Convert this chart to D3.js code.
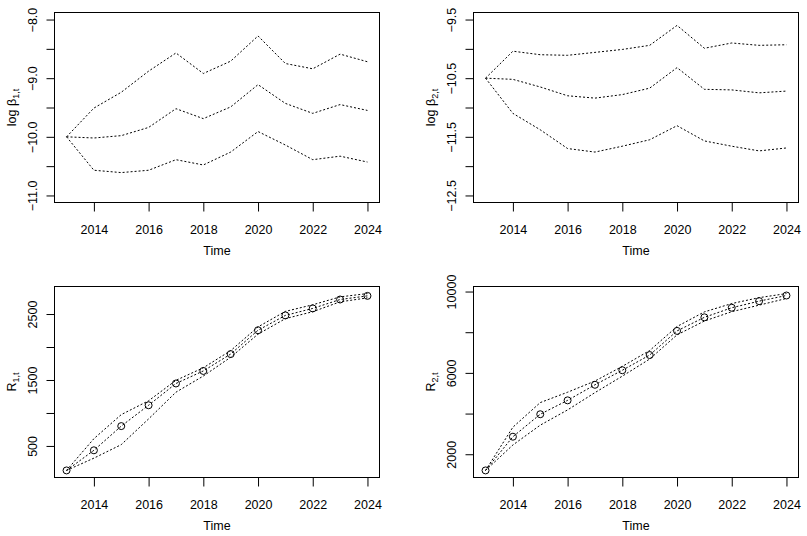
<!DOCTYPE html>
<html>
<head>
<meta charset="utf-8">
<script src="https://cdn.jsdelivr.net/npm/d3@7"></script>
<style>
  body { margin: 0; background: #fff; }
  svg text { font-family: "Liberation Sans", Arial, sans-serif; fill: #000; }
</style>
</head>
<body>
<div id="chart"></div>
<script>
// years on the x axis
const years = [2013, 2014, 2015, 2016, 2017, 2018, 2019, 2020, 2021, 2022, 2023, 2024];
const xTicks = [2014, 2016, 2018, 2020, 2022, 2024];

// log beta_1,t : upper / median / lower
const b1Upper = [-10.0, -9.51, -9.24, -8.88, -8.57, -8.92, -8.71, -8.28, -8.75, -8.84, -8.59, -8.72];
const b1Mid   = [-10.0, -10.02, -9.98, -9.84, -9.52, -9.69, -9.49, -9.11, -9.43, -9.60, -9.45, -9.55];
const b1Lower = [-10.0, -10.57, -10.61, -10.57, -10.39, -10.48, -10.26, -9.91, -10.14, -10.39, -10.33, -10.43];
const b1Ticks = [-8, -8.5, -9, -9.5, -10, -10.5, -11];
const b1TickLabels = ["\u22128.0", "", "\u22129.0", "", "\u221210.0", "", "\u221211.0"];

// log beta_2,t
const b2Upper = [-10.5, -10.04, -10.10, -10.11, -10.06, -10.01, -9.94, -9.60, -9.99, -9.90, -9.94, -9.93];
const b2Mid   = [-10.5, -10.52, -10.65, -10.80, -10.84, -10.78, -10.67, -10.32, -10.69, -10.70, -10.75, -10.72];
const b2Lower = [-10.5, -11.10, -11.38, -11.70, -11.76, -11.66, -11.55, -11.31, -11.57, -11.66, -11.74, -11.69];
const b2Ticks = [-9.5, -10, -10.5, -11, -11.5, -12, -12.5];
const b2TickLabels = ["\u22129.5", "", "\u221210.5", "", "\u221211.5", "", "\u221212.5"];

// R_1,t
const r1Upper = [129, 610, 975, 1185, 1495, 1685, 1945, 2305, 2540, 2640, 2760, 2810];
const r1Mid   = [129, 434, 801, 1117, 1447, 1637, 1893, 2254, 2479, 2585, 2720, 2775];
const r1Lower = [129, 315, 520, 910, 1315, 1560, 1845, 2195, 2430, 2535, 2685, 2745];
const r1Ticks = [500, 1000, 1500, 2000, 2500];
const r1TickLabels = ["500", "", "1500", "", "2500"];

// R_2,t
const r2Upper = [1204, 3330, 4540, 5050, 5600, 6320, 7100, 8280, 9000, 9410, 9700, 9900];
const r2Mid   = [1204, 2862, 3967, 4650, 5415, 6130, 6878, 8065, 8732, 9203, 9528, 9805];
const r2Lower = [1204, 2455, 3430, 4180, 5030, 5840, 6680, 7870, 8550, 9010, 9330, 9660];
const r2Ticks = [2000, 4000, 6000, 8000, 10000];
const r2TickLabels = ["2000", "", "6000", "", "10000"];

const W = 807, H = 536;
const svg = d3.select("#chart").append("svg")
    .attr("width", W)
    .attr("height", H);

// R style axis range: extend by 4% each side
function rRange(lo, hi) {
  const pad = (hi - lo) * 0.04;
  return [lo - pad, hi + pad];
}

function panel(p) {
  const g = svg.append("g")
    .attr("transform", `translate(${p.left},${p.top})`);
  const w = p.width, h = p.height;

  const x = d3.scaleLinear()
    .domain(rRange(d3.min(years), d3.max(years)))
    .range([0, w]);
  const all = p.series.flat();
  const yLim = p.ylim || [d3.min(all), d3.max(all)];
  const y = d3.scaleLinear()
    .domain(rRange(yLim[0], yLim[1]))
    .range([h, 0]);

  // x axis
  const xa = g.append("g")
    .attr("transform", `translate(0,${h})`)
    .call(d3.axisBottom(x).tickValues(xTicks).tickSize(9).tickSizeOuter(0).tickFormat(d3.format("d")));
  xa.select(".domain").remove();
  xa.selectAll("text").attr("font-size", 12.5).attr("y", 31.5).attr("dy", 0);

  // y axis, labels rotated like R
  const ya = g.append("g")
    .call(d3.axisLeft(y).tickValues(p.ticks).tickSize(8).tickSizeOuter(0)
      .tickFormat((d, i) => p.tickLabels[i]));
  ya.select(".domain").remove();
  ya.selectAll("text")
    .attr("font-size", 12.5)
    .attr("x", 0).attr("y", 0).attr("dy", 0)
    .attr("text-anchor", "middle")
    .attr("transform", "translate(-17.5,0) rotate(-90)");

  // box
  g.append("rect")
    .attr("x", 0).attr("y", 0)
    .attr("width", w).attr("height", h)
    .attr("fill", "none")
    .attr("stroke", "#000");

  const line = d3.line()
    .x((d, i) => x(years[i]))
    .y(d => y(d));

  g.selectAll("path.band")
    .data(p.series)
    .join("path")
      .attr("class", "band")
      .attr("d", line)
      .attr("fill", "none")
      .attr("stroke", "#000")
      .attr("stroke-width", 1)
      .attr("stroke-dasharray", "2,2");

  if (p.points) {
    g.selectAll("circle")
      .data(p.points)
      .join("circle")
        .attr("cx", (d, i) => x(years[i]))
        .attr("cy", d => y(d))
        .attr("r", 3.5)
        .attr("fill", "none")
        .attr("stroke", "#000")
        .attr("stroke-width", 1);
  }

  // axis titles
  g.append("text")
    .attr("x", w / 2)
    .attr("y", h + 52.5)
    .attr("text-anchor", "middle")
    .attr("font-size", 12.5)
    .text("Time");

  const yl = g.append("text")
    .attr("text-anchor", "middle")
    .attr("font-size", 12.5)
    .attr("transform", `translate(-38.5,${h / 2}) rotate(-90)`);
  yl.append("tspan").text(p.ylab[0]);
  yl.append("tspan").attr("font-size", 9).attr("dy", 3).text(p.ylab[1]);
}

panel({left: 54.5, top: 12.5, width: 325, height: 190,
  series: [b1Upper, b1Mid, b1Lower], ylim: [-11, -8],
  ticks: b1Ticks, tickLabels: b1TickLabels, ylab: ["log \u03b2", "1,t"]});

panel({left: 473.5, top: 12.5, width: 325, height: 190,
  series: [b2Upper, b2Mid, b2Lower], ylim: [-12.5, -9.5],
  ticks: b2Ticks, tickLabels: b2TickLabels, ylab: ["log \u03b2", "2,t"]});

panel({left: 54.5, top: 286.5, width: 325, height: 191,
  series: [r1Upper, r1Mid, r1Lower], points: r1Mid,
  ticks: r1Ticks, tickLabels: r1TickLabels, ylab: ["R", "1,t"]});

panel({left: 473.5, top: 286.5, width: 325, height: 191,
  series: [r2Upper, r2Mid, r2Lower], points: r2Mid,
  ticks: r2Ticks, tickLabels: r2TickLabels, ylab: ["R", "2,t"]});
</script>
</body>
</html>
